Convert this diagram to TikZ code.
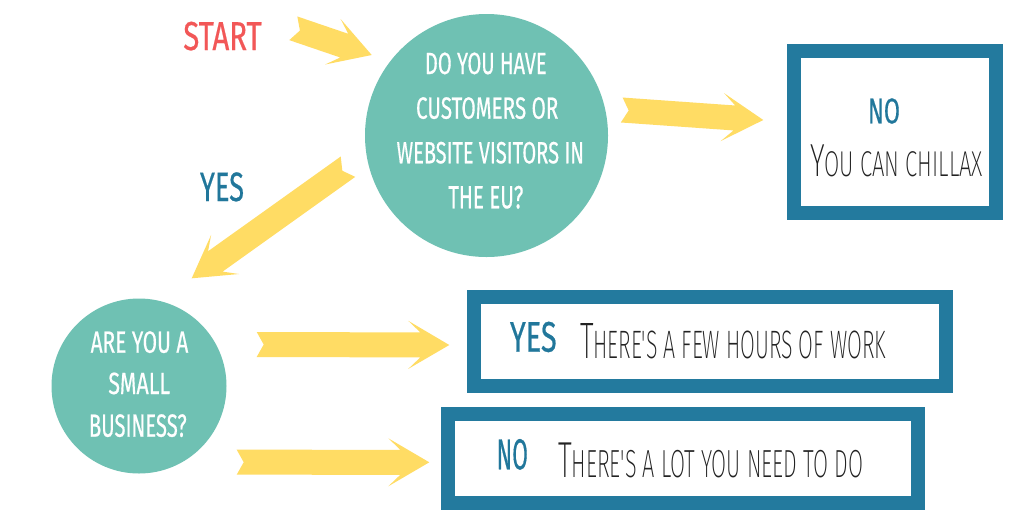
\documentclass[tikz,border=0pt]{standalone}
\usepackage{fontspec}
\usepackage{graphicx}
\usetikzlibrary{calc}
\newfontfamily\bebas{Fira Sans}[FakeBold=0.6]
\IfFontExistsTF{Fira Sans ExtraLight}
  {\newfontfamily\hand{Fira Sans ExtraLight}}
  {\IfFontExistsTF{Fira Sans Light}
     {\newfontfamily\hand{Fira Sans Light}}
     {\newfontfamily\hand{lmmonoproplt10-regular.otf}}}
\definecolor{ayellow}{HTML}{FFDC64}
\definecolor{qteal}{HTML}{6FC1B3}
\definecolor{boxblue}{HTML}{237A9E}
\definecolor{lblblue}{HTML}{21779B}
\definecolor{startred}{HTML}{F25757}
\definecolor{inkblack}{HTML}{222222}
\tikzset{
  qcircle/.style={circle, fill=qteal, draw=none, minimum size=#1, inner sep=0pt},
  ansbox/.style={rectangle, draw=boxblue, line width=14pt, fill=white, inner sep=0pt},
  lbl/.style={anchor=base, inner sep=0pt, outer sep=0pt},
  qtext/.style={lbl, text=white},
  bluetext/.style={lbl, text=lblblue},
  handtext/.style={lbl, text=inkblack},
  arrowfill/.style={fill=ayellow, draw=none},
}
% width, height, text (condensed caps)
\newcommand\bb[3]{\resizebox{#1pt}{#2pt}{\bebas #3}}
% width, height, big first letter, rest in small caps
\newcommand\hw[4]{\resizebox{#1pt}{#2pt}{\hand\fontsize{40}{40}\selectfont #3\fontsize{31}{31}\selectfont #4}}
% chunky arrow from tail coordinate #1 to tip coordinate #2
\newcommand\yarrow[2]{%
  \coordinate (hb) at ($(#2)!41pt!(#1)$);
  \coordinate (sj) at ($(#2)!29pt!(#1)$);
  \fill[arrowfill] ($(#1)!12.5pt!90:(#2)$) -- ($(#1)!7pt!(#2)$) -- ($(#1)!12.5pt!-90:(#2)$)
    -- ($(sj)!12.5pt!-90:(#2)$) -- ($(hb)!24pt!-90:(#2)$) -- (#2)
    -- ($(hb)!24pt!90:(#2)$) -- ($(sj)!12.5pt!90:(#2)$) -- cycle;
}
\begin{document}
\begin{tikzpicture}[x=1pt, y=-1pt]
\fill[white] (0,0) rectangle (1024,512);
\useasboundingbox (0,0) rectangle (1024,512);

% decision circles
\node[qcircle=243pt] (q1) at (486.5,135.5) {};
\node[qcircle=175pt] (q2) at (139,386) {};

% answer boxes
\node[ansbox, minimum width=202pt, minimum height=162pt] (nobox) at (895,132) {};
\node[ansbox, minimum width=472pt, minimum height=89pt] (yesbox) at (710,341.7) {};
\node[ansbox, minimum width=470pt, minimum height=89pt] (no2box) at (683,458.5) {};

% question texts
\node[qtext] (q1l1) at (485.8,74) {\bb{121.7}{21.5}{DO YOU HAVE}};
\node[qtext] (q1l2) at (487.2,118.7) {\bb{142.3}{21.5}{CUSTOMERS OR}};
\node[qtext] (q1l3) at (490.3,163.3) {\bb{187.3}{21.5}{WEBSITE VISITORS IN}};
\node[qtext] (q1l4) at (485.8,208.3) {\bb{75}{22.5}{THE EU?}};
\node[qtext] (q2l1) at (139.5,352.7) {\bb{97.6}{21.5}{ARE YOU A}};
\node[qtext] (q2l2) at (139.2,394) {\bb{61.7}{21.5}{SMALL}};
\node[qtext] (q2l3) at (137.8,436.7) {\bb{97.7}{22.5}{BUSINESS?}};

% labels
\node[lbl, text=startred] (start) at (222.5,50) {\bb{78.4}{28.3}{START}};
\node[bluetext] (yes1) at (222,201) {\bb{44}{28.7}{YES}};
\node[bluetext] (no1) at (884,123.3) {\bb{32}{25}{NO}};
\node[handtext] (chill) at (896.5,176.7) {\hw{173}{31.7}{Y}{OU CAN CHILLAX}};
\node[bluetext] (yes2) at (533.3,351.7) {\bb{46.7}{30}{YES}};
\node[handtext] (few) at (733,358.3) {\hw{306}{35}{T}{HERE'S A FEW HOURS OF WORK}};
\node[bluetext] (no2) at (512.3,469.3) {\bb{31.3}{30.3}{NO}};
\node[handtext] (lot) at (710.5,477.3) {\hw{305}{34.6}{T}{HERE'S A LOT YOU NEED TO DO}};

% arrow end points
\coordinate (a1t) at (293.3,28.3);  \coordinate (a1h) at (371.7,55);
\coordinate (a2t) at (348,166.7);   \coordinate (a2h) at (191.7,278.3);
\coordinate (a3t) at (621.7,110);   \coordinate (a3h) at (763.3,120);
\coordinate (a4t) at (256.7,344.5); \coordinate (a4h) at (449.3,345);
\coordinate (a5t) at (236.7,462.2); \coordinate (a5h) at (429.3,462.3);

\yarrow{a1t}{a1h}
\yarrow{a2t}{a2h}
\yarrow{a3t}{a3h}
\yarrow{a4t}{a4h}
\yarrow{a5t}{a5h}
\end{tikzpicture}
\end{document}
